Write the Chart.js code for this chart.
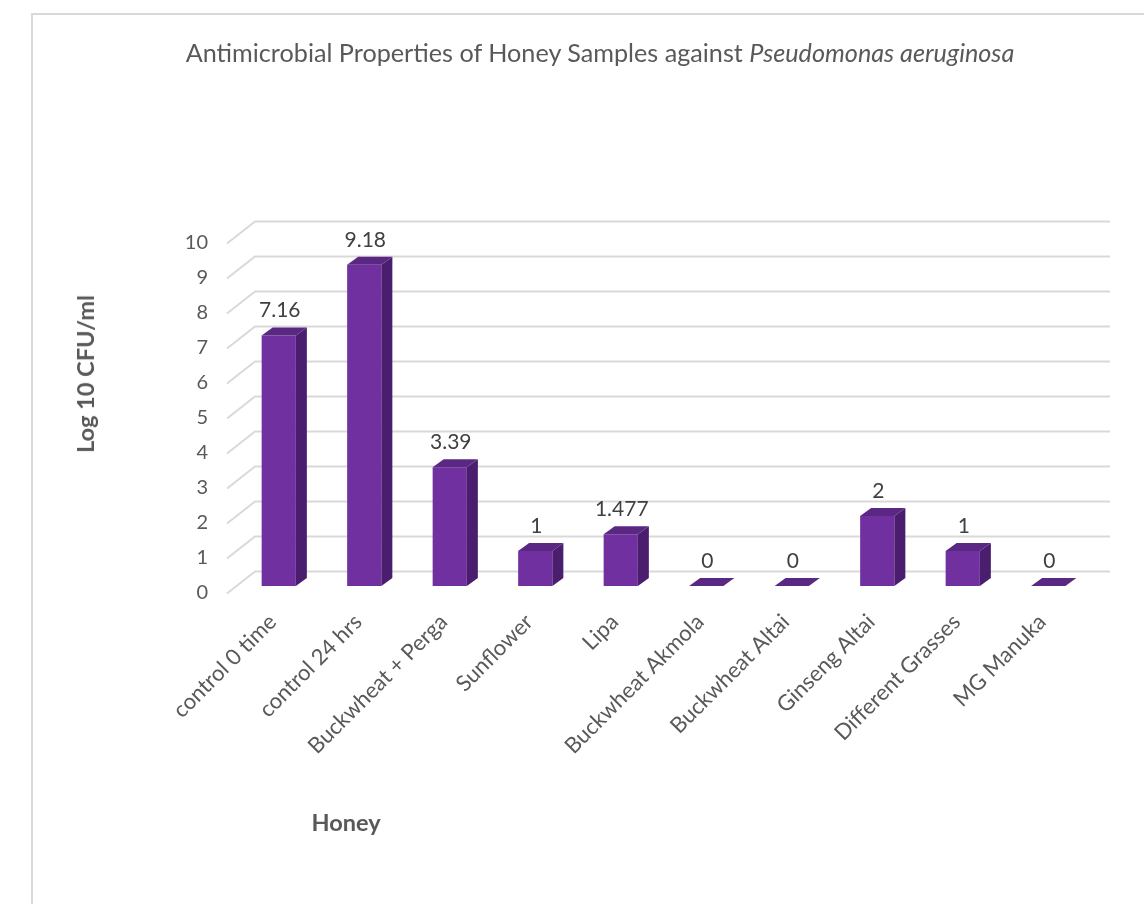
<!DOCTYPE html>
<html>
<head>
<meta charset="utf-8">
<title>Antimicrobial Properties of Honey Samples</title>
<script src="https://cdn.jsdelivr.net/npm/chart.js@4.4.1/dist/chart.umd.min.js"></script>
<style>
    html, body { margin: 0; padding: 0; background: #fff; }
    body { position: relative; width: 1144px; height: 904px; overflow: hidden; font-family: Lato, "Open Sans", sans-serif; color: #595959; }
    #frame { position: absolute; left: 31px; top: 13px; width: 1200px; height: 1000px; border-left: 2px solid #d9d9d9; border-top: 2px solid #d9d9d9; }
    #chart { position: absolute; left: 0; top: 0; }
    .chart-title { position: absolute; left: 0; width: 1200px; top: 52px; transform: translateY(-50%); text-align: center; font-size: 25.2px; font-weight: 400; white-space: nowrap; }
    .y-title { position: absolute; left: 85px; top: 374px; transform: translate(-50%, -50%) rotate(-90deg); white-space: nowrap; font-size: 23.5px; font-weight: 700; }
    .x-title { position: absolute; left: 346px; top: 822px; transform: translate(-50%, -50%); font-size: 23.5px; font-weight: 700; }
</style>
</head>
<body>
<div id="frame"></div>
<canvas id="chart" width="1144" height="904"></canvas>
<div class="chart-title">Antimicrobial Properties of Honey Samples against <i>Pseudomonas aeruginosa</i></div>
<div class="y-title">Log 10 CFU/ml</div>
<div class="x-title">Honey</div>
<script>
const honeySamples = [
    "control 0 time", "control 24 hrs", "Buckwheat + Perga", "Sunflower", "Lipa",
    "Buckwheat Akmola", "Buckwheat Altai", "Ginseng Altai", "Different Grasses", "MG Manuka",
];
const logCfu = [7.16, 9.18, 3.39, 1, 1.477, 0, 0, 2, 1, 0];
const yTicks = [0, 1, 2, 3, 4, 5, 6, 7, 8, 9, 10];

const textColor = "#595959";
const frontColor = "#7030A0";
const sideColor = "#4A1D6E";
const topColor = "#5A2782";

// fake 3d: bar depth and the back wall offset
const barDepth = { x: 11, y: 8 };
const wallDepth = { x: 19, y: 14.5 };
const floorFront = { x: 9, y: 7.5 };

const bars3d = {
    id: "bars3d",
    beforeDatasetsDraw(chart) {
        const { ctx, chartArea, scales } = chart;
        ctx.save();
        ctx.strokeStyle = "#d9d9d9";
        ctx.lineWidth = 2;
        yTicks.forEach((v) => {
            const py = scales.y.getPixelForValue(v);
            ctx.beginPath();
            ctx.moveTo(chartArea.left - floorFront.x, py + floorFront.y);
            ctx.lineTo(chartArea.left + wallDepth.x, py - wallDepth.y);
            ctx.lineTo(chartArea.right + wallDepth.x, py - wallDepth.y);
            ctx.stroke();
        });
        ctx.restore();
    },
    afterDatasetsDraw(chart) {
        const { ctx } = chart;
        const meta = chart.getDatasetMeta(0);
        ctx.save();
        meta.data.forEach((bar, i) => {
            const l = bar.x - bar.width / 2;
            const r = bar.x + bar.width / 2;
            const t = bar.y;
            const b = bar.base;
            const dx = barDepth.x, dy = barDepth.y;

            if (b - t > 0.5) {
                ctx.fillStyle = sideColor;
                ctx.beginPath();
                ctx.moveTo(r, t);
                ctx.lineTo(r + dx, t - dy);
                ctx.lineTo(r + dx, b - dy);
                ctx.lineTo(r, b);
                ctx.closePath();
                ctx.fill();
            }

            ctx.fillStyle = topColor;
            ctx.beginPath();
            ctx.moveTo(l, t);
            ctx.lineTo(l + dx, t - dy);
            ctx.lineTo(r + dx, t - dy);
            ctx.lineTo(r, t);
            ctx.closePath();
            ctx.fill();

            ctx.fillStyle = "#404040";
            ctx.font = "21px Lato";
            ctx.textAlign = "center";
            ctx.textBaseline = "alphabetic";
            ctx.fillText(String(logCfu[i]), bar.x + 1, t - dy - 10);
        });
        ctx.restore();
    },
};

new Chart(document.getElementById("chart"), {
    type: "bar",
    data: {
        labels: honeySamples,
        datasets: [{
            data: logCfu,
            backgroundColor: frontColor,
            borderWidth: 0,
            barPercentage: 0.4,
            categoryPercentage: 1.0,
        }],
    },
    options: {
        responsive: false,
        animation: false,
        layout: {
            padding: { top: 236, right: 53, left: 0, bottom: 0 },
        },
        plugins: {
            legend: { display: false },
            tooltip: { enabled: false },
        },
        scales: {
            x: {
                grid: { display: false },
                border: { display: false },
                ticks: {
                    color: textColor,
                    font: { family: "Lato", size: 22 },
                    minRotation: 45,
                    maxRotation: 45,
                    autoSkip: false,
                    padding: 15,
                    labelOffset: -6,
                },
                afterFit(scale) {
                    scale.height = 904 - 586;
                },
            },
            y: {
                min: 0,
                max: 10,
                grid: { display: false },
                border: { display: false },
                ticks: {
                    stepSize: 1,
                    color: textColor,
                    font: { family: "Lato", size: 20 },
                    padding: 20,
                    labelOffset: 7,
                },
                afterFit(scale) {
                    scale.width = 236;
                },
            },
        },
    },
    plugins: [bars3d],
});
</script>
</body>
</html>
